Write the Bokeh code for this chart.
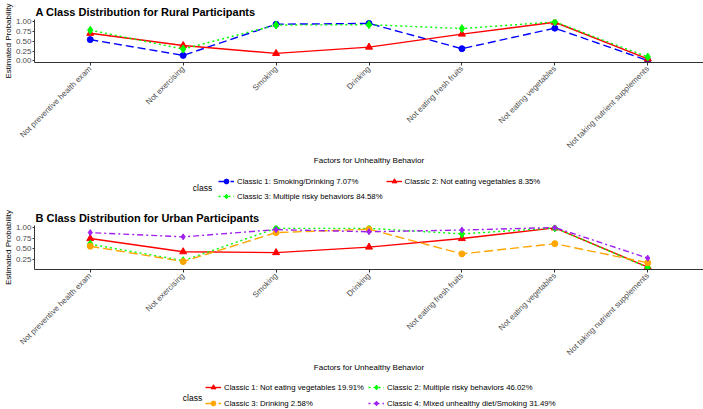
import math
from bokeh.plotting import figure
from bokeh.models import Range1d, FactorRange, FixedTicker, Legend, LegendItem, ColumnDataSource, Label
from bokeh.layouts import column
from bokeh.embed import file_html
from bokeh.resources import INLINE

# Behaviour factors (x categories)
factors = [
    "Not preventive health exam",
    "Not exercising",
    "Smoking",
    "Drinking",
    "Not eating fresh fruits",
    "Not eating vegetables",
    "Not taking nutrient supplements",
]

# Rural latent classes
rural_labels = [
    "Classic 1: Smoking/Drinking 7.07%",
    "Classic 2: Not eating vegetables 8.35%",
    "Classic 3: Multiple risky behaviors 84.58%",
]
rural_c1 = [0.54, 0.14, 0.93, 0.95, 0.31, 0.83, 0.01]
rural_c2 = [0.70, 0.39, 0.19, 0.35, 0.68, 0.98, 0.05]
rural_c3 = [0.78, 0.30, 0.91, 0.92, 0.82, 0.99, 0.10]

# Urban latent classes
urban_labels = [
    "Classic 1: Not eating vegetables 19.91%",
    "Classic 2: Multiple risky behaviors 46.02%",
    "Classic 3: Drinking 2.58%",
    "Classic 4: Mixed unhealthy diet/Smoking 31.49%",
]
urban_c1 = [0.74, 0.43, 0.41, 0.54, 0.74, 0.99, 0.07]
urban_c2 = [0.61, 0.22, 0.98, 0.98, 0.85, 0.99, 0.06]
urban_c3 = [0.56, 0.20, 0.88, 0.96, 0.38, 0.62, 0.17]
urban_c4 = [0.88, 0.78, 0.95, 0.90, 0.94, 1.00, 0.28]

X_TITLE = "Factors for Unhealthy Behavior"
FONT = "Liberation Sans"
W = 703
LEFT = 31  # shared left border; the column aligns every frame to it

# (color, dash, marker, marker size)
rural_styles = [
    ("#0000FF", "8 4", "circle", 6),
    ("#FF0000", "solid", "triangle", 7),
    ("#00FF00", "2 3", "diamond", 8),
]
urban_styles = [
    ("#FF0000", "solid", "triangle", 7),
    ("#00FF00", "2 3", "diamond", 8),
    ("#FFA500", "9 4", "circle", 6),
    ("#A020F0", "2 3 6 3", "diamond", 6),
]


def add_series(p, xs, vals, style):
    color, dash, marker, size = style
    src = ColumnDataSource(dict(x=xs, y=vals))
    lr = p.line("x", "y", source=src, line_color=color, line_width=1.4, line_dash=dash)
    sr = p.scatter("x", "y", source=src, marker=marker, size=size,
                   fill_color=color, line_color=color)
    return lr, sr


def make_panel(title, series, styles, y_range, y_ticks, height, top, bottom):
    p = figure(
        width=W, height=height,
        x_range=FactorRange(*factors, range_padding=0.1, range_padding_units="absolute"),
        y_range=y_range,
        output_backend="svg", toolbar_location=None,
        min_border_left=LEFT, min_border_right=0, min_border_top=top, min_border_bottom=bottom,
        background_fill_color="white", border_fill_color="white", outline_line_color=None,
    )
    p.title.text = title
    p.title.text_font = FONT
    p.title.text_font_size = "11px"
    p.title.text_font_style = "bold"
    p.title.text_color = "black"
    p.title.standoff = 3
    p.title.offset = 1

    p.xgrid.visible = False
    p.ygrid.visible = False

    for ax in (p.xaxis[0], p.yaxis[0]):
        ax.axis_line_color = "#333333"
        ax.axis_line_width = 1
        ax.major_tick_line_color = "#333333"
        ax.major_tick_out = 2
        ax.major_tick_in = 0
        ax.minor_tick_line_color = None
        ax.major_label_text_font = FONT
        ax.major_label_text_font_size = "8px"
        ax.major_label_text_color = "#4D4D4D"
        ax.major_label_standoff = 1
        ax.axis_label_text_font = FONT
        ax.axis_label_text_font_size = "8px"
        ax.axis_label_text_font_style = "normal"
        ax.axis_label_text_color = "black"
        ax.axis_label_standoff = 0

    p.yaxis[0].ticker = FixedTicker(ticks=y_ticks)
    p.yaxis[0].major_label_overrides = {t: f"{t:.2f}" for t in y_ticks}
    p.yaxis[0].axis_label = "Estimated Probability"

    p.xaxis[0].axis_label = X_TITLE
    p.xaxis[0].major_label_orientation = math.pi / 4
    p.xaxis[0].major_label_standoff = 2
    p.xaxis[0].major_tick_out = 3

    for vals, style in zip(series, styles):
        add_series(p, factors, vals, style)
    return p


def make_legend(labels, styles, height, glyph_x, glyph_bottom, spacing, class_xy):
    # x range runs 1:1 with the page pixels, starting at the shared frame edge
    f = figure(
        width=W, height=height,
        x_range=Range1d(LEFT, W), y_range=Range1d(0, height),
        x_axis_type=None, y_axis_type=None,
        output_backend="svg", toolbar_location=None,
        min_border=0, min_border_left=LEFT, min_border_right=0,
        min_border_top=0, min_border_bottom=0,
        background_fill_color="white", border_fill_color="white", outline_line_color=None,
    )
    items = []
    for lab, style in zip(labels, styles):
        # key glyphs only: data sits outside the visible range
        lr, sr = add_series(f, [-60, -40], [-60, -60], style)
        items.append(LegendItem(label=lab, renderers=[lr, sr]))
    legend = Legend(
        items=items, orientation="horizontal", ncols=2,
        location=(glyph_x - LEFT, glyph_bottom),
        label_text_font=FONT, label_text_font_size="7.8px", label_text_color="black",
        glyph_width=16, glyph_height=12, label_height=12, label_standoff=3,
        spacing=spacing, padding=0, margin=0,
        border_line_color=None, background_fill_alpha=0,
    )
    f.add_layout(legend)
    f.add_layout(Label(x=class_xy[0], y=class_xy[1], text="class",
                       text_font=FONT, text_font_size="8.5px", text_color="black",
                       text_baseline="middle", text_align="left"))
    return f


pa = make_panel(
    "A Class Distribution for Rural Participants",
    [rural_c1, rural_c2, rural_c3], rural_styles,
    Range1d(-0.04, 1.05), [0.0, 0.25, 0.5, 0.75, 1.0], 168, 19, 105,
)
la = make_legend(rural_labels, rural_styles, 36, 215, 2, 3, (190, 17))

pb = make_panel(
    "B Class Distribution for Urban Participants",
    [urban_c1, urban_c2, urban_c3, urban_c4], urban_styles,
    Range1d(0.013, 1.047), [0.25, 0.5, 0.75, 1.0], 171, 21, 105,
)
lb = make_legend(urban_labels, urban_styles, 34, 202, 0, 4, (180, 12))

layout = column(pa, la, pb, lb, spacing=0)
open("out.html", "w").write(file_html(layout, INLINE))
